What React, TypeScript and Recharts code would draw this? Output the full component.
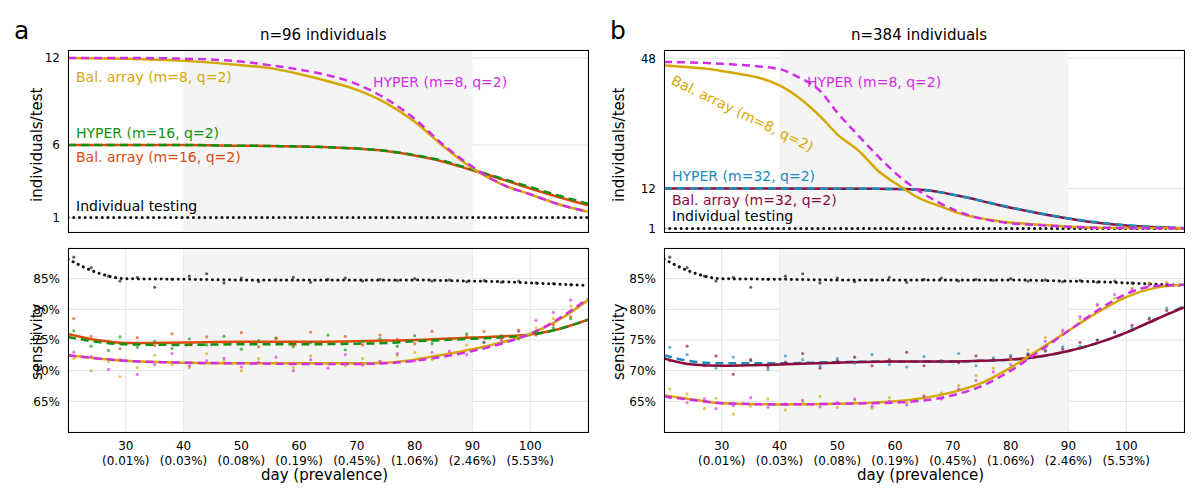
import React from 'react';
import { ComposedChart, Line, Scatter, XAxis, YAxis, CartesianGrid, ReferenceArea } from 'recharts';

const DAY_TICKS = [30, 40, 50, 60, 70, 80, 90, 100];
const PREVALENCE = ['(0.01%)', '(0.03%)', '(0.08%)', '(0.19%)', '(0.45%)', '(1.06%)', '(2.46%)', '(5.53%)'];

const GOLD = '#d4a800';
const MAGENTA = '#d22ee6';
const GREEN = '#12900f';
const ORANGE = '#dd4a0c';
const BLUE = '#1b8cbc';
const WINE = '#8c0a3c';

type P = { day: number; v: number };
const mk = (days: number[], vals: number[]): P[] => days.map((d, i) => ({ day: d, v: vals[i] }));

// ---- panel a, top (individuals/test)
const A_TOP_DAYS = [20, 30, 40, 50, 55, 60, 65, 70, 75, 80, 85, 90, 95, 100, 105, 110];
const A_BAL8 = [12, 11.95, 11.8, 11.5, 11.3, 10.9, 10.4, 9.8, 8.9, 7.6, 5.9, 4.4, 3.3, 2.6, 1.9, 1.4];
const A_HYP8 = [12, 12, 11.95, 11.75, 11.5, 11.2, 10.8, 10.2, 9.2, 7.8, 6.0, 4.5, 3.3, 2.6, 1.9, 1.4];
const A_HYP16 = [6, 6, 6, 5.95, 5.93, 5.9, 5.85, 5.75, 5.6, 5.3, 4.9, 4.3, 3.7, 3.1, 2.5, 1.95];
const A_BAL16 = [6, 6, 6, 5.95, 5.93, 5.9, 5.85, 5.75, 5.58, 5.28, 4.85, 4.25, 3.65, 3.0, 2.4, 1.85];
const INDIV_DAYS = [20, 110];
const INDIV_TOP = [1, 1];

// ---- panel b, top
const B_TOP_DAYS = [20, 30, 40, 43, 47, 50, 54, 57, 61, 64, 68, 71, 78, 85, 95, 110];
const B_BAL8 = [46, 44.5, 40.5, 37.5, 32, 27, 22, 17, 12.5, 9.5, 7, 5.2, 3, 2, 1.2, 1];
const B_HYP8 = [47, 46.5, 45, 43, 39, 33, 26, 21, 15, 11.5, 7.8, 5.6, 2.8, 1.9, 1.2, 1];
const B_M32_DAYS = [20, 40, 60, 65, 71, 78, 85, 92, 100, 110];
const B_HYP32 = [12, 12, 11.9, 11.6, 10, 7.5, 5.2, 3.3, 1.9, 1.1];
const B_BAL32 = [12, 12, 11.9, 11.6, 10, 7.4, 5.1, 3.2, 1.8, 1.05];

// ---- bottom (sensitivity %)
const SENS_DAYS = [20, 25, 30, 40, 50, 60, 70, 75, 80, 85, 90, 95, 100, 105, 110];
const INDIV_SENS = [88.2, 86, 85, 84.9, 84.8, 84.8, 84.8, 84.8, 84.8, 84.7, 84.6, 84.5, 84.3, 84.1, 83.9];
const A_S8 = [72.5, 72, 71.6, 71.3, 71.2, 71.2, 71.2, 71.3, 71.8, 72.6, 73.5, 74.6, 76, 78.3, 81.5];
const A_SH8 = [72.5, 72, 71.6, 71.3, 71.2, 71.1, 71.1, 71.2, 71.6, 72.3, 73.2, 74.4, 76, 78.5, 81.8];
const A_S16G = [75.5, 74.7, 74.3, 74.2, 74.3, 74.3, 74.4, 74.5, 74.8, 75, 75.2, 75.4, 75.8, 76.8, 78.3];
const A_S16O = [76, 75, 74.5, 74.6, 74.7, 74.7, 74.8, 74.9, 75, 75.2, 75.4, 75.6, 75.9, 76.8, 78.3];
const B_S8 = [66, 65.3, 64.7, 64.5, 64.6, 65, 66.5, 68, 70.5, 73.5, 76.5, 79.5, 82, 83.5, 84];
const B_SH8 = [65.8, 65.2, 64.7, 64.5, 64.6, 64.8, 66, 67.5, 70, 73.2, 76.5, 79.8, 82.5, 83.8, 84];
const B_S32B = [72.5, 71.5, 71.2, 71.2, 71.4, 71.5, 71.5, 71.6, 71.8, 72.3, 73.2, 74.5, 76.2, 78.3, 80.5];
const B_S32W = [72, 71, 70.8, 71, 71.3, 71.5, 71.5, 71.6, 71.8, 72.3, 73.2, 74.5, 76.2, 78.3, 80.3];

// scattered estimates (points)
const SC_DAYS = [21, 24, 27, 29, 32, 35, 38, 41, 44, 47, 50, 53, 56, 59, 62, 65, 68, 71, 74, 77, 80, 83, 86, 89, 92, 95, 98, 101, 104, 107];
const BLK_SC = [88.5, 86.8, 85.4, 84.6, 85.2, 83.6, 84.9, 85.4, 85.8, 84.3, 85.1, 84.5, 84.8, 85.2, 84.4, 84.9, 85.1, 84.6, 84.9, 84.7, 85.0, 84.6, 84.8, 84.5, 84.7, 84.4, 84.6, 84.3, 84.2, 84.0];
const A_SC_GOLD = [72, 70, 71.5, 69, 70.5, 72.5, 71, 70.5, 72.8, 71.5, 70, 72, 71.3, 70.5, 72.4, 71.2, 70.8, 72, 71.5, 72.5, 73, 71.8, 72.8, 74.2, 74, 75.2, 75.5, 77, 78.5, 80.5];
const A_SC_MAG = [73, 72.3, 70.2, 71.8, 69.4, 71, 72.8, 70.8, 71.6, 72, 70.6, 71.4, 72.2, 70, 71.8, 70.4, 72.6, 70.9, 71.5, 72.8, 71.6, 73, 73.2, 72.6, 74.6, 74.9, 76.4, 78.2, 79.5, 81.5];
const A_SC_GREEN = [76.5, 74, 73.3, 75.5, 73.8, 74.8, 73.6, 75.2, 74.2, 75.6, 73.5, 74.9, 75.3, 73.9, 74.6, 75.8, 73.4, 74.8, 75.2, 74, 75.7, 74.4, 75.1, 76, 74.6, 75.7, 75.2, 76.3, 77, 78.5];
const A_SC_ORANGE = [78.5, 75.6, 74.8, 73.6, 75.4, 74.1, 76, 74.4, 75.5, 74.6, 76.2, 73.9, 75.3, 74.2, 76.3, 74.7, 75.6, 74.2, 75.8, 75.1, 74.4, 76.4, 75.2, 75.6, 76.4, 75.3, 76.6, 75.8, 77.5, 78.8];
const B_SC_GOLD = [67, 66.2, 63.8, 65.5, 62.9, 64.2, 65.4, 63.6, 64.9, 65.8, 64, 65.2, 63.9, 65.6, 64.8, 65.9, 66.4, 67.6, 69.2, 70.4, 71.8, 73.4, 75.4, 76.2, 78.4, 80.6, 81.8, 83.5, 84.3, 84.4];
const B_SC_MAG = [65.6, 64.8, 65.4, 63.8, 64.3, 65.6, 64, 64.6, 65.2, 64.1, 64.8, 65.4, 64.2, 65, 64.4, 65.8, 65.4, 67, 68.4, 69.8, 71, 72.6, 74.8, 76.6, 78.8, 80.8, 82.4, 83.2, 83.9, 84.1];
const B_SC_BLUE = [73.8, 72.6, 71.2, 70.4, 72.2, 71.6, 70.2, 72.4, 71.8, 70.8, 72, 71.2, 72.6, 71, 70.6, 72.3, 71.4, 72.8, 70.8, 72.1, 72.5, 72.8, 73.4, 73.9, 74, 75, 76.4, 77, 78.6, 80.2];
const B_SC_WINE = [71.6, 74, 70.8, 72.4, 69.4, 71.8, 70.6, 71.4, 72.8, 70.4, 71.6, 72.2, 70.8, 71.8, 73, 70.8, 71.6, 71.3, 72.4, 71.8, 72.2, 72.6, 73.2, 73.5, 74.6, 75, 76.2, 77.4, 78.4, 79.8];

const FONT = 'DejaVu Sans, sans-serif';
const W = 1200;
const H = 500;
const YW = 40;
const XH = 40;

const BottomTick = ({ x, y, payload }: any) => {
  const i = DAY_TICKS.indexOf(payload.value);
  return (
    <text x={x} y={y} textAnchor="middle" fontSize={12} fill="#000" fontFamily={FONT}>
      <tspan x={x} dy={10}>{payload.value}</tspan>
      <tspan x={x} dy={15}>{PREVALENCE[i]}</tspan>
    </text>
  );
};

const dotted = { stroke: '#111', strokeWidth: 3, strokeDasharray: '0.1 5.6', strokeLinecap: 'round' as const };

type Series = { data: P[]; color: string; dashed?: boolean; width?: number };

const Panel = ({ left, top, bottom, yDomain, yTicks, yFmt, lines, scatters, xLabels }: any) => (
  <div style={{ position: 'absolute', left: 0, top: 0 }}>
    <ComposedChart width={W} height={H} margin={{ left: left - YW, top, right: W - left - 520, bottom: H - bottom - XH }}>
      <ReferenceArea x1={40} x2={90} fill="#f4f4f4" fillOpacity={1} stroke="none" />
      <CartesianGrid stroke="#e2e2e2" />
      <XAxis type="number" dataKey="day" domain={[20, 110]} ticks={DAY_TICKS} allowDataOverflow height={XH}
        axisLine={false} tickLine={false} tick={xLabels ? <BottomTick /> : false} />
      <YAxis type="number" domain={yDomain} ticks={yTicks} allowDataOverflow width={YW} axisLine={false}
        tickLine={false} tickFormatter={yFmt} tick={{ fontSize: 12, fill: '#000', fontFamily: FONT }} />
      {scatters.map((s: { data: P[]; color: string }, i: number) => (
        <Scatter key={'s' + i} data={s.data} dataKey="v" fill={s.color} fillOpacity={0.6} isAnimationActive={false}
          shape={(p: any) => <circle cx={p.cx} cy={p.cy} r={1.6} fill={s.color} fillOpacity={0.65} />} />
      ))}
      {lines.map((l: Series & { dots?: boolean }, i: number) => (
        <Line key={'l' + i} data={l.data} dataKey="v" type="monotone" dot={false} isAnimationActive={false}
          {...(l.dots ? dotted : { stroke: l.color, strokeWidth: l.width ?? 2.5, strokeDasharray: l.dashed ? '8 5' : undefined })} />
      ))}
    </ComposedChart>
    <div style={{ position: 'absolute', left, top, width: 519, height: bottom - top - 1, border: '1px solid #000', pointerEvents: 'none' }} />
  </div>
);

const Label = ({ x, y, color, text, rotate = 0, size = 14 }: any) => (
  <div style={{ position: 'absolute', left: x, top: y, color, fontSize: size, fontFamily: FONT, whiteSpace: 'nowrap',
    transform: rotate ? `rotate(${rotate}deg)` : undefined, transformOrigin: 'left top' }}>{text}</div>
);

const pct = (v: number) => `${v}%`;

export default function App() {
  const indivTop = { data: mk(INDIV_DAYS, INDIV_TOP), color: '#111', dots: true };
  const indivSens = { data: mk(SENS_DAYS, INDIV_SENS), color: '#111', dots: true };
  return (
    <div style={{ position: 'absolute', left: 0, top: 0, width: W, height: H, background: '#fff', fontFamily: FONT }}>
      <Panel left={68} top={50} bottom={232} yDomain={[0, 12.55]} yTicks={[0, 1, 6, 12]}
        scatters={[]}
        lines={[
          indivTop,
          { data: mk(A_TOP_DAYS, A_BAL16), color: ORANGE },
          { data: mk(A_TOP_DAYS, A_HYP16), color: GREEN, dashed: true },
          { data: mk(A_TOP_DAYS, A_BAL8), color: GOLD },
          { data: mk(A_TOP_DAYS, A_HYP8), color: MAGENTA, dashed: true },
        ]} />
      <Panel left={68} top={248} bottom={432} yDomain={[60, 90]} yTicks={[65, 70, 75, 80, 85]} yFmt={pct} xLabels
        scatters={[
          { data: mk(SC_DAYS, BLK_SC), color: '#111' },
          { data: mk(SC_DAYS, A_SC_GOLD), color: GOLD },
          { data: mk(SC_DAYS, A_SC_MAG), color: MAGENTA },
          { data: mk(SC_DAYS, A_SC_GREEN), color: GREEN },
          { data: mk(SC_DAYS, A_SC_ORANGE), color: ORANGE },
        ]}
        lines={[
          indivSens,
          { data: mk(SENS_DAYS, A_S16O), color: ORANGE },
          { data: mk(SENS_DAYS, A_S16G), color: GREEN, dashed: true },
          { data: mk(SENS_DAYS, A_S8), color: GOLD },
          { data: mk(SENS_DAYS, A_SH8), color: MAGENTA, dashed: true },
        ]} />
      <Panel left={664} top={50} bottom={232} yDomain={[0, 50.3]} yTicks={[1, 12, 48]}
        scatters={[]}
        lines={[
          indivTop,
          { data: mk(B_M32_DAYS, B_BAL32), color: WINE },
          { data: mk(B_M32_DAYS, B_HYP32), color: BLUE, dashed: true },
          { data: mk(B_TOP_DAYS, B_BAL8), color: GOLD },
          { data: mk(B_TOP_DAYS, B_HYP8), color: MAGENTA, dashed: true },
        ]} />
      <Panel left={664} top={248} bottom={432} yDomain={[60, 90]} yTicks={[65, 70, 75, 80, 85]} yFmt={pct} xLabels
        scatters={[
          { data: mk(SC_DAYS, BLK_SC), color: '#111' },
          { data: mk(SC_DAYS, B_SC_GOLD), color: GOLD },
          { data: mk(SC_DAYS, B_SC_MAG), color: MAGENTA },
          { data: mk(SC_DAYS, B_SC_BLUE), color: BLUE },
          { data: mk(SC_DAYS, B_SC_WINE), color: WINE },
        ]}
        lines={[
          indivSens,
          { data: mk(SENS_DAYS, B_S32B), color: BLUE, dashed: true },
          { data: mk(SENS_DAYS, B_S32W), color: WINE },
          { data: mk(SENS_DAYS, B_S8), color: GOLD },
          { data: mk(SENS_DAYS, B_SH8), color: MAGENTA, dashed: true },
        ]} />

      <Label x={14} y={16} color="#000" text="a" size={25} />
      <Label x={610} y={16} color="#000" text="b" size={25} />
      <Label x={260} y={26} color="#000" text="n=96 individuals" size={15} />
      <Label x={851} y={26} color="#000" text="n=384 individuals" size={15} />
      <Label x={261} y={466} color="#000" text="day (prevalence)" size={15} />
      <Label x={857} y={466} color="#000" text="day (prevalence)" size={15} />
      <Label x={28} y={202} color="#000" text="individuals/test" size={15} rotate={-90} />
      <Label x={28} y={380} color="#000" text="sensitivity" size={15} rotate={-90} />
      <Label x={610} y={202} color="#000" text="individuals/test" size={15} rotate={-90} />
      <Label x={610} y={380} color="#000" text="sensitivity" size={15} rotate={-90} />

      <Label x={76} y={69} color={GOLD} text="Bal. array (m=8, q=2)" />
      <Label x={373} y={74} color={MAGENTA} text="HYPER (m=8, q=2)" />
      <Label x={76} y={125} color={GREEN} text="HYPER (m=16, q=2)" />
      <Label x={76} y={149} color={ORANGE} text="Bal. array (m=16, q=2)" />
      <Label x={76} y={198} color="#000" text="Individual testing" />
      <Label x={807} y={74} color={MAGENTA} text="HYPER (m=8, q=2)" />
      <Label x={676} y={72} color={GOLD} text="Bal. array (m=8, q=2)" rotate={26} />
      <Label x={672} y={168} color={BLUE} text="HYPER (m=32, q=2)" />
      <Label x={672} y={192} color={WINE} text="Bal. array (m=32, q=2)" />
      <Label x={672} y={208} color="#000" text="Individual testing" />
    </div>
  );
}
